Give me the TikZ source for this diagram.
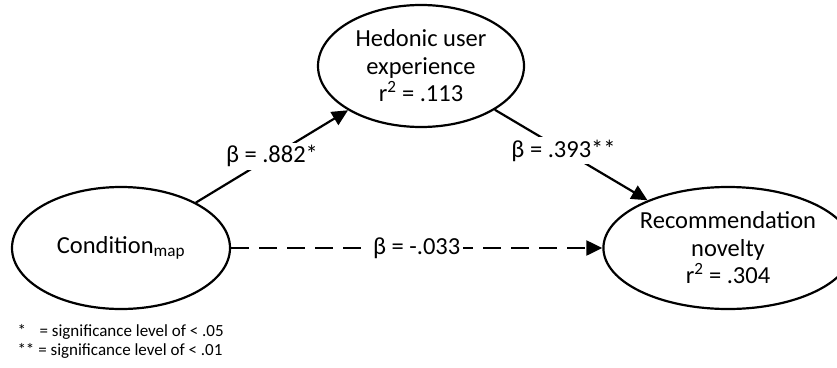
\documentclass[tikz,border=0pt]{standalone}
\usepackage{fontspec}
\setmainfont{Carlito}
\usetikzlibrary{shapes.geometric,arrows.meta}
\begin{document}
\begin{tikzpicture}[x=1pt,y=-1pt,
    construct/.style={ellipse,draw,line width=2.2pt,inner sep=0pt,align=center,
      font=\fontsize{24.5}{27.5}\selectfont},
    path/.style={line width=2.2pt,-{Triangle[length=16pt,width=15pt]}},
    coef/.style={fill=white,inner sep=3pt,font=\fontsize{24.5}{27}\selectfont}]
      \useasboundingbox (0,0) rectangle (837,367);
      \node[construct,minimum width=218pt,minimum height=122pt] (cond) at (121,248) {Condition\textsubscript{map}};
      \node[construct,minimum width=206pt,minimum height=122pt] (hed) at (421,66) {Hedonic user\\experience\\r\textsuperscript{2} = .113};
      \node[construct,minimum width=206pt,minimum height=122pt] (nov) at (728,248) {Recommendation\\novelty\\r\textsuperscript{2} = .304};
      \draw[path] (cond) -- node[coef] {β = .882*} (hed);
      \draw[path] (hed) -- node[coef,pos=.45] {β = .393**} (nov);
      \draw[path,dash pattern=on 18pt off 10pt] (cond) -- node[coef,pos=.5] {β = -.033} (nov);
      \node[anchor=west,align=left,font=\fontsize{17}{19}\selectfont] (legend) at (14,341)
        {*\hspace{0.8em}= significance level of < .05\\** = significance level of < .01};
    \end{tikzpicture}
\end{document}
